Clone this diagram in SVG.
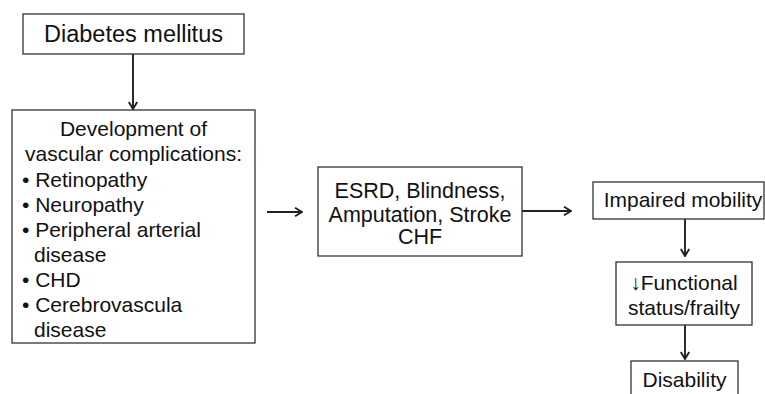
<svg xmlns="http://www.w3.org/2000/svg" width="765" height="394" viewBox="0 0 765 394">
<defs>
<style>
.box{fill:#fff;stroke:#333;stroke-width:1.3}
.t{font-family:"Liberation Sans",Arial,sans-serif;fill:#111}
.c{stroke:#222;stroke-width:1.9;fill:none}
</style>
<marker id="ah" viewBox="0 0 10 10" refX="9" refY="5" markerWidth="10" markerHeight="10" markerUnits="userSpaceOnUse" orient="auto">
<polyline points="2,0.8 9,5 2,9.2" fill="none" stroke="#222" stroke-width="1.9"/>
</marker>
</defs>
<rect width="765" height="394" fill="#fff"/>
<g id="connectors">
<line class="c" x1="133" y1="54" x2="133" y2="109" marker-end="url(#ah)"/>
<line class="c" x1="267" y1="212" x2="302" y2="212" marker-end="url(#ah)"/>
<line class="c" x1="522" y1="211" x2="571" y2="211" marker-end="url(#ah)"/>
<line class="c" x1="685" y1="219" x2="685" y2="256" marker-end="url(#ah)"/>
<line class="c" x1="685" y1="325" x2="685" y2="359" marker-end="url(#ah)"/>
</g>
<g id="diabetes">
<rect class="box" x="23" y="14" width="221" height="40"/>
<text class="t" x="133.5" y="42" font-size="23.5" text-anchor="middle">Diabetes mellitus</text>
</g>
<g id="vascular">
<rect class="box" x="12" y="110" width="243" height="233"/>
<g class="t" font-size="21">
<text x="133.5" y="136" text-anchor="middle">Development of</text>
<text x="133.5" y="161" text-anchor="middle">vascular complications:</text>
<text x="22" y="187">• Retinopathy</text>
<text x="22" y="212">• Neuropathy</text>
<text x="22" y="237">• Peripheral arterial</text>
<text x="34" y="262">disease</text>
<text x="22" y="287">• CHD</text>
<text x="22" y="312">• Cerebrovascula</text>
<text x="34" y="337">disease</text>
</g>
</g>
<g id="esrd">
<rect class="box" x="318" y="167" width="204" height="89"/>
<g class="t" font-size="21.5" text-anchor="middle">
<text x="420" y="198">ESRD, Blindness,</text>
<text x="420" y="222">Amputation, Stroke</text>
<text x="420" y="244">CHF</text>
</g>
</g>
<g id="mobility">
<rect class="box" x="593" y="182" width="171" height="37"/>
<text class="t" x="683" y="207" font-size="21" text-anchor="middle">Impaired mobility</text>
</g>
<g id="functional">
<rect class="box" x="616" y="262" width="136" height="63"/>
<g class="t" font-size="21" text-anchor="middle">
<text x="684" y="290">↓Functional</text>
<text x="684" y="315">status/frailty</text>
</g>
</g>
<g id="disability">
<rect class="box" x="631" y="361" width="107" height="40"/>
<text class="t" x="684.5" y="387" font-size="21" text-anchor="middle">Disability</text>
</g>
</svg>
